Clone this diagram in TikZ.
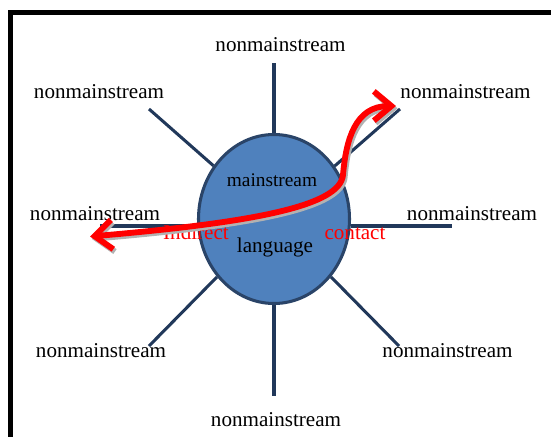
\documentclass[tikz,border=0pt]{standalone}
\usepackage{fontspec}
\setmainfont{Liberation Serif}
\usetikzlibrary{shapes.geometric,arrows.meta}
\definecolor{langBlue}{RGB}{79,129,189}
\definecolor{langEdge}{RGB}{42,68,104}
\definecolor{spokeNavy}{RGB}{33,56,90}
\definecolor{contactRed}{RGB}{255,0,0}
\tikzset{
  nmLabel/.style={font=\fontsize{18}{20}\selectfont,inner sep=0pt,anchor=base},
  spoke/.style={draw=spokeNavy,line width=2.6pt},
  contactArrow/.style={draw=contactRed,line width=5pt,
    {Straight Barb[length=15pt,width=25pt]}-{Straight Barb[length=15pt,width=25pt]}},
  contactShadow/.style={contactArrow,draw=black!30,transform canvas={shift={(0.05cm,-0.07cm)}}}
}

\begin{document}
\begin{tikzpicture}[x=0.03cm,y=-0.03cm]
\useasboundingbox (0,0) rectangle (551,436);
% frame, cut by the page on two sides
\draw[line width=0.15cm,line join=miter] (10.7,445) -- (10.7,12.5) -- (560,12.5);

% the language
\node[ellipse,draw=langEdge,fill=langBlue,line width=2.6pt,inner sep=0pt,
      minimum width=4.53cm,minimum height=5.07cm] (lang) at (274,219) {};
\node[nmLabel,font=\fontsize{16.5}{18}\selectfont] (mainLbl) at (272,186) {mainstream};
\node[nmLabel] (langLbl) at (275,252.5) {language};

% spoke ends
\coordinate (eN)  at (274,63);
\coordinate (eNE) at (400,109);
\coordinate (eE)  at (452,226);
\coordinate (eSE) at (399,346);
\coordinate (eS)  at (274,396);
\coordinate (eSW) at (149,346);
\coordinate (eW)  at (100,226);
\coordinate (eNW) at (149,109);

\draw[spoke] (lang) -- (eN);
\draw[spoke] (lang) -- (eNE);
\draw[spoke] (lang.east |- eE) -- (eE);
\draw[spoke] (lang) -- (eSE);
\draw[spoke] (lang) -- (eS);
\draw[spoke] (lang) -- (eSW);
\draw[spoke] (lang.west |- eW) -- (eW);
\draw[spoke] (lang) -- (eNW);

% outer varieties
\node[nmLabel] (nmN)  at (280.5,51) {nonmainstream};
\node[nmLabel] (nmNE) at (465.5,98) {nonmainstream};
\node[nmLabel] (nmE)  at (472,220) {nonmainstream};
\node[nmLabel] (nmSE) at (447.5,357) {nonmainstream};
\node[nmLabel] (nmS)  at (276,426) {nonmainstream};
\node[nmLabel] (nmSW) at (101,357) {nonmainstream};
\node[nmLabel] (nmW)  at (95,220) {nonmainstream};
\node[nmLabel] (nmNW) at (99,98) {nonmainstream};

% contact
\node[nmLabel,text=contactRed] (indirLbl) at (196,239) {Indirect};
\node[nmLabel,text=contactRed] (contLbl) at (355,239) {contact};

\coordinate (tipW) at (90,236.5);
\coordinate (bend) at (343,175);
\coordinate (tipE) at (396,106);
\draw[contactShadow] (tipW) .. controls (260,222) and (340,205) .. (bend)
  .. controls (346,140) and (355,106) .. (tipE);
\draw[contactArrow] (tipW) .. controls (260,222) and (340,205) .. (bend)
  .. controls (346,140) and (355,106) .. (tipE);
\end{tikzpicture}
\end{document}
